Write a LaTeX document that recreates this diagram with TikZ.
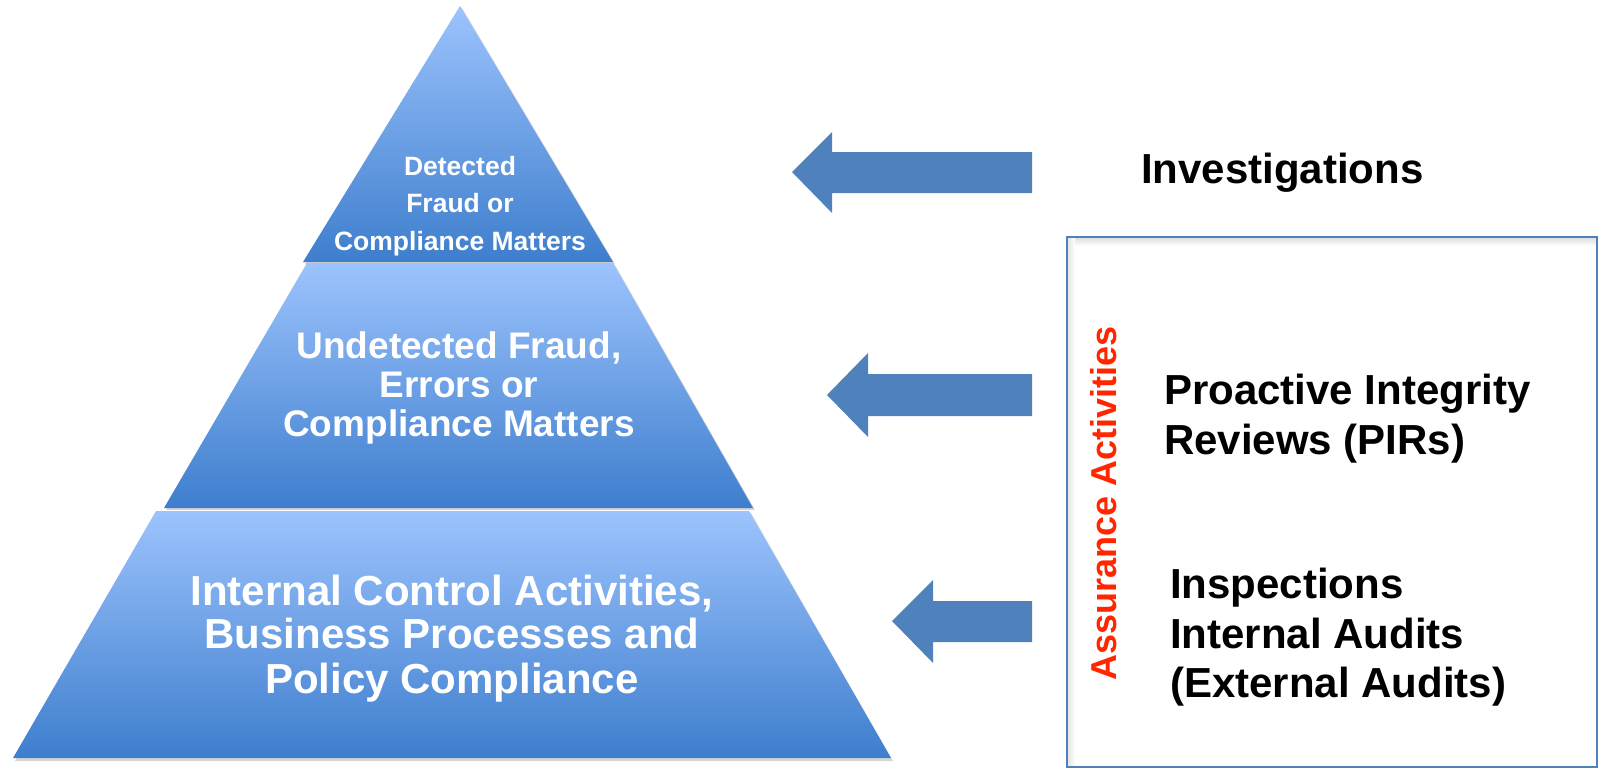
\documentclass[tikz,border=0pt]{standalone}
\usepackage{fontspec}
\setmainfont{Liberation Sans}
\definecolor{pyrtop}{RGB}{156,195,253}
\definecolor{pyrbot}{RGB}{62,126,205}
\definecolor{arrowblue}{RGB}{79,129,189}
\definecolor{boxblue}{RGB}{79,129,189}
\definecolor{assured}{RGB}{255,38,0}
\begin{document}
\begin{tikzpicture}[x=1pt,y=-1pt,
  seg/.style={top color=pyrtop, bottom color=pyrbot, draw=none},
  segshadow/.style={fill=black!16, draw=none},
  blockarrow/.style={fill=arrowblue, draw=none},
  ptxt/.style={text=white, anchor=base, inner sep=0pt},
  rtxt/.style={text=black, anchor=base west, inner sep=0pt, font=\fontsize{42}{50}\selectfont\bfseries},
]
\useasboundingbox (0,0) rectangle (1598,768);

% ---------- pyramid ----------
% shadows
\fill[segshadow] (462,8) -- (615,264) -- (305,264) -- cycle;
\fill[segshadow] (309,265) -- (615,265) -- (755,510) -- (166,510) -- cycle;
\fill[segshadow] (158,513) -- (751,513) -- (893,761) -- (15,761) -- cycle;
% segments
\shade[seg] (460,6) -- (613,262) -- (303,262) -- cycle;
\shade[seg] (307,263) -- (613,263) -- (753,508) -- (164,508) -- cycle;
\shade[seg] (156,511) -- (749,511) -- (891,758) -- (13,758) -- cycle;

% top text
\begin{scope}[every node/.style={ptxt, font=\fontsize{26.5}{30}\selectfont\bfseries}]
\node (t1) at (460,175.5) {Detected};
\node (t2) at (460,212.5) {Fraud or};
\node (t3) at (460,250.5) {Compliance Matters};
\end{scope}
% middle text
\begin{scope}[every node/.style={ptxt, font=\fontsize{37}{40}\selectfont\bfseries}]
\node (m1) at (459,358) {Undetected Fraud,};
\node (m2) at (459,397) {Errors or};
\node (m3) at (459,436) {Compliance Matters};
\end{scope}
% bottom text
\begin{scope}[every node/.style={ptxt, font=\fontsize{42}{44}\selectfont\bfseries}]
\node (b1) at (452,605) {Internal Control Activities,};
\node (b2) at (452,648) {Business Processes and};
\node (b3) at (452,693) {Policy Compliance};
\end{scope}

% ---------- arrows ----------
\fill[blockarrow] (792,172) -- (832,132) -- (832,152) -- (1032,152) -- (1032,193) -- (832,193) -- (832,213) -- cycle;
\fill[blockarrow] (827,395) -- (868,353) -- (868,374) -- (1032,374) -- (1032,416) -- (868,416) -- (868,437) -- cycle;
\fill[blockarrow] (892,621) -- (933,580) -- (933,601) -- (1032,601) -- (1032,642) -- (933,642) -- (933,663) -- cycle;

% ---------- box ----------
\shade[top color=black!12, bottom color=white, draw=none] (1068,238) rectangle (1596,246);
\shade[left color=black!10, right color=white, draw=none] (1068,238) rectangle (1075,766);
\draw[boxblue, line width=2pt] (1067,237) rectangle (1597,767);

\node[rotate=90, anchor=base, inner sep=0pt, text=assured,
      font=\fontsize{36}{40}\selectfont\bfseries] (assur) at (1116,503) {Assurance Activities};

\node[rtxt] (inv) at (1141,183) {Investigations};
\node[rtxt] (pir1) at (1164,404) {Proactive Integrity};
\node[rtxt] (pir2) at (1164,454) {Reviews (PIRs)};
\node[rtxt] (ins1) at (1170,598) {Inspections};
\node[rtxt] (ins2) at (1170,648) {Internal Audits};
\node[rtxt] (ins3) at (1170,697) {(External Audits)};
\end{tikzpicture}
\end{document}
